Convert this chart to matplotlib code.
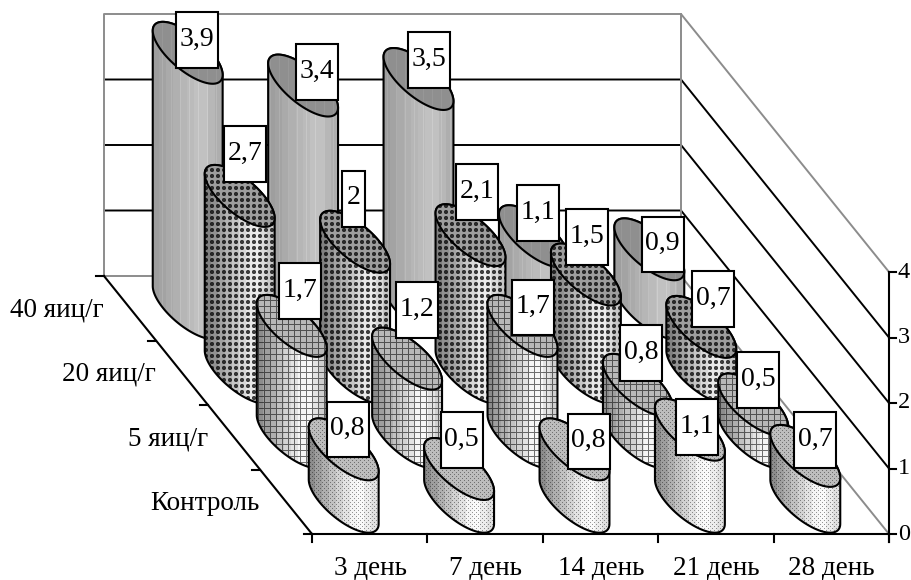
import numpy as np
import matplotlib
matplotlib.use('Agg')
import matplotlib.pyplot as plt
from matplotlib.patches import PathPatch, Rectangle
from matplotlib.path import Path

plt.rcParams['font.family'] = ['Liberation Serif', 'DejaVu Serif']

days = ['3 день', '7 день', '14 день', '21 день', '28 день']
groups = ['Контроль', '5 яиц/г', '20 яиц/г', '40 яиц/г']
control = [0.8, 0.5, 0.8, 1.1, 0.7]
eggs_5 = [1.7, 1.2, 1.7, 0.8, 0.5]
eggs_20 = [2.7, 2, 2.1, 1.5, 0.7]
eggs_40 = [3.9, 3.4, 3.5, 1.1, 0.9]
values = [control, eggs_5, eggs_20, eggs_40]
z_ticks = [0, 1, 2, 3, 4]

# label box offset from the centre of each cylinder top
label_dx = [[3.8, 2.4, 14, 7.1, 9.7],
            [7.8, 9.4, 10, 3.1, 4.7],
            [5.3, -1.6, 6.5, 1.1, 11.7],
            [9.3, 13.9, 10.5, 4.1, 13.2]]
label_dy = [[-19.9, -29, -8, -2.7, -15.9],
            [-34.9, -48.6, -18.4, -31.9, -24.5],
            [-41.9, -42.75, -43.2, -37.5, -27.9],
            [-12.8, -13.6, -19, -23.2, -4.8]]

# oblique projection, all in figure pixels
x0, y0 = 312, 534
step_x = (889 - 312) / len(days)
depth_x, depth_y = 52, 64.5
unit_z = 65.5
n_days, n_groups = len(days), len(groups)


def proj(i, j, z=0):
    return x0 + step_x * i - depth_x * j, y0 - depth_y * j - unit_z * z


A = 0.212 * step_x
B = 0.48
T_R = np.arctan2(B * depth_x, A)
FS = 19.5
VAL_FS = 20
Z_FS = 17.5


def ring(cx, cy, t):
    return np.column_stack([cx + A * np.cos(t) + B * depth_x * np.sin(t),
                            cy + B * depth_y * np.sin(t)])


def pattern(j, xx, yy):
    xp, yp = xx % 6, yy % 6
    if j == 3:
        return np.where(xx % 9 == 0, 1.06, 1.0)
    if j == 2:
        block = (xp < 4) & (yp < 4)
        cross = (np.isin(xp, [1, 2])) | (np.isin(yp, [1, 2]))
        return np.where(block & cross, 0.27, np.where(block, 0.7, 1.0))
    if j == 1:
        return np.where((xp == 0) | (yp == 0), 0.45, 1.0)
    dots = ((xx % 4 == 0) & (yy % 4 == 0)) | ((xx % 4 == 2) & (yy % 4 == 2))
    return np.where(dots, 0.6, 1.0)


# shading across the cylinder: left, brightest, right
side_tones = {3: (0.62, 0.77, 0.64), 2: (0.5, 0.95, 0.7), 1: (0.55, 1.0, 0.72), 0: (0.55, 1.0, 0.82)}
top_tones = {3: 0.56, 2: 0.62, 1: 0.72, 0: 0.74}


def paint(ax, path, j, shaded, z):
    left, bottom = np.floor(path.vertices.min(axis=0)).astype(int)
    right, top = np.ceil(path.vertices.max(axis=0)).astype(int)
    xx, yy = np.meshgrid(np.arange(left, right), np.arange(bottom, top))
    if shaded:
        f = np.floor((xx - left) / 7) * 7 / (right - left)
        a, b, c = side_tones[j]
        tone = np.where(f < 0.65, a + (b - a) * f / 0.65, b + (c - b) * (f - 0.65) / 0.35)
    else:
        tone = np.full(xx.shape, top_tones[j])
    im = ax.imshow(np.clip(tone * pattern(j, xx, yy), 0, 1), cmap='gray', vmin=0, vmax=1, aspect='auto',
                   extent=(left, right, top, bottom), interpolation='bilinear', zorder=z)
    outline = PathPatch(path, fc='none', ec='black', lw=1.5, zorder=z + 0.5, joinstyle='round')
    ax.add_patch(outline)
    im.set_clip_path(outline)


fig = plt.figure(figsize=(9.11, 5.80), dpi=100)
ax = fig.add_axes([0, 0, 1, 1])
ax.axis('off')

gray = '#8c8c8c'
# back wall and right wall
xb, yb = proj(0, n_groups)
xr, yr = proj(n_days, n_groups)
xf, yf = proj(n_days, 0)
for z in z_ticks[1:-1]:
    ax.plot([xb, xr, xf], [yb - unit_z * z, yr - unit_z * z, yf - unit_z * z], color='black', lw=1.4, zorder=1)
top_z = z_ticks[-1] * unit_z
ax.plot([xb, xb, xr, xf], [yb, yb - top_z, yr - top_z, yf - top_z], color=gray, lw=1.4, zorder=1)
ax.plot([xb, xr, xf], [yb, yr, yf], color=gray, lw=1.4, zorder=1)
ax.plot([xr, xr], [yr, yr - top_z], color=gray, lw=1.4, zorder=1)

# axes and ticks
ax.plot([x0, xb], [y0, yb], color='black', lw=1.5, zorder=2)
ax.plot([x0, xf], [y0, yf], color='black', lw=1.5, zorder=2)
ax.plot([xf, xf], [yf + 8, yf - top_z], color='black', lw=1.5, zorder=2)
for i in range(n_days + 1):
    x, y = proj(i, 0)
    ax.plot([x, x], [y, y + 8], color='black', lw=1.5, zorder=2)
for j in range(n_groups + 1):
    x, y = proj(0, j)
    ax.plot([x - 8, x], [y, y], color='black', lw=1.5, zorder=2)
for z in z_ticks:
    x, y = proj(n_days, 0, z)
    ax.plot([x, x + 7], [y, y], color='black', lw=1.5, zorder=2)
    ax.text(x + 9, y, str(z), ha='left', va='center', fontsize=Z_FS)

for i, d in enumerate(days):
    x, y = proj(i + 0.5, 0)
    ax.text(x + 0.5, y + 34.5, d, ha='center', va='center', fontsize=FS)
for j, g in enumerate(groups):
    x, y = proj(0, j + 1)
    ax.text(x, y + 34, g, ha='right', va='center', fontsize=FS)

# cylinders, back row first
order = 3
for j in range(n_groups - 1, -1, -1):
    for i in range(n_days):
        v = values[j][i]
        cx, cy = proj(i + 0.5, j + 0.5)
        tx, ty = proj(i + 0.5, j + 0.5, v)
        lower = ring(cx, cy, np.linspace(T_R, T_R + np.pi, 60))
        upper = ring(tx, ty, np.linspace(T_R + np.pi, T_R + 2 * np.pi, 60))
        body = Path(np.vstack([lower, upper, lower[:1]]), closed=True)
        lid = Path(ring(tx, ty, np.linspace(0, 2 * np.pi, 120)), closed=True)
        paint(ax, body, j, True, order)
        paint(ax, lid, j, False, order + 1)
        order += 2

# value labels sit above every cylinder
for j in range(n_groups - 1, -1, -1):
    for i in range(n_days):
        v = values[j][i]
        tx, ty = proj(i + 0.5, j + 0.5, v)
        bx, by = tx + label_dx[j][i], ty + label_dy[j][i]
        s = f'{v:g}'.replace('.', ',')
        w = 42 if ',' in s else 23
        h = 55.5
        ax.add_patch(Rectangle((bx - w / 2, by - h / 2), w, h, fc='white', ec='black', lw=1.5, zorder=order))
        ax.text(bx, by - 1, s, ha='center', va='center', fontsize=VAL_FS, zorder=order + 1)
        order += 2

ax.set_xlim(0, 911)
ax.set_ylim(580, 0)
fig.savefig('out.png', dpi=100)
